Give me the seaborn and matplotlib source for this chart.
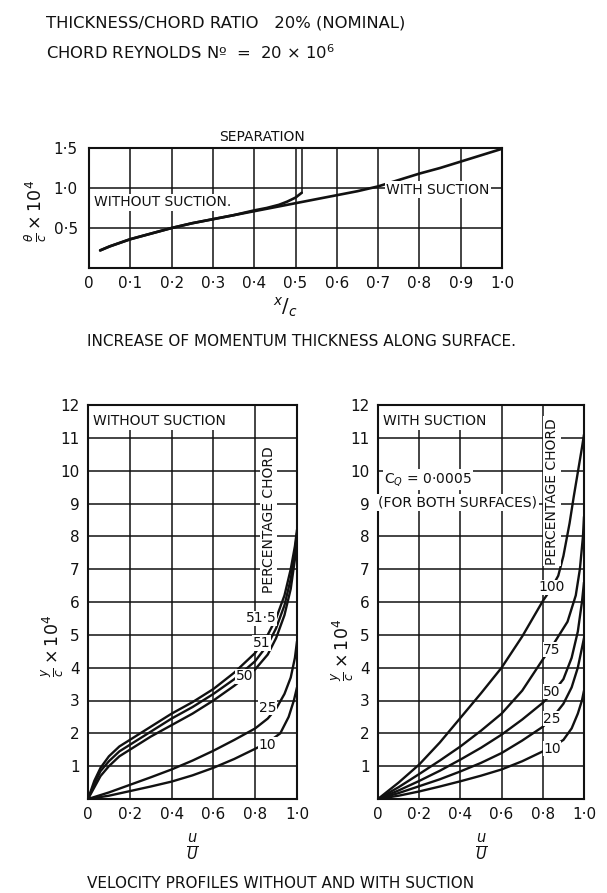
import matplotlib
matplotlib.use("Agg")
import matplotlib.pyplot as plt
import pandas as pd
import seaborn as sns

# ---------------- data: momentum thickness (top chart) ----------------
with_x = [0.027, 0.05, 0.1, 0.15, 0.2, 0.25, 0.3, 0.35, 0.4, 0.45, 0.5, 0.55,
          0.6, 0.65, 0.7, 0.75, 0.8, 0.85, 0.9, 0.95, 1.0]
with_theta = [0.22, 0.27, 0.36, 0.43, 0.50, 0.56, 0.61, 0.66, 0.71, 0.76, 0.81,
              0.86, 0.91, 0.96, 1.02, 1.10, 1.18, 1.25, 1.33, 1.41, 1.49]
without_x = [0.027, 0.05, 0.1, 0.15, 0.2, 0.25, 0.3, 0.35, 0.4, 0.43, 0.46,
             0.48, 0.5, 0.515]
without_theta = [0.22, 0.27, 0.36, 0.43, 0.50, 0.56, 0.61, 0.66, 0.72, 0.75,
                 0.79, 0.83, 0.88, 0.94]
separation_x = [0.515, 0.515]
separation_theta = [0.94, 1.5]

top_xticks = [0, 0.1, 0.2, 0.3, 0.4, 0.5, 0.6, 0.7, 0.8, 0.9, 1.0]
top_xticklabels = ["0", "0·1", "0·2", "0·3", "0·4", "0·5", "0·6", "0·7", "0·8", "0·9", "1·0"]
top_yticks = [0.5, 1.0, 1.5]
top_yticklabels = ["0·5", "1·0", "1·5"]

# ---------------- data: velocity profiles without suction ----------------
wo_10_u = [0, 0.1, 0.2, 0.3, 0.4, 0.5, 0.6, 0.7, 0.8, 0.86, 0.92, 0.96, 0.985, 1.0]
wo_10_y = [0, 0.1, 0.24, 0.38, 0.53, 0.72, 0.95, 1.22, 1.53, 1.72, 2.0, 2.5, 3.0, 3.4]
wo_25_u = [0, 0.1, 0.2, 0.3, 0.4, 0.5, 0.6, 0.7, 0.8, 0.86, 0.9, 0.94, 0.97, 0.99, 1.0]
wo_25_y = [0, 0.2, 0.43, 0.66, 0.9, 1.17, 1.47, 1.8, 2.15, 2.45, 2.75, 3.2, 3.7, 4.3, 4.8]
wo_50_u = [0, 0.03, 0.06, 0.1, 0.15, 0.2, 0.3, 0.4, 0.5, 0.6, 0.7, 0.8, 0.86, 0.9, 0.94, 0.97, 0.99, 1.0]
wo_50_y = [0, 0.35, 0.7, 1.0, 1.3, 1.5, 1.9, 2.25, 2.6, 3.0, 3.45, 3.95, 4.4, 4.9, 5.6, 6.4, 7.3, 8.0]
wo_51_u = [0, 0.03, 0.06, 0.1, 0.15, 0.2, 0.3, 0.4, 0.5, 0.6, 0.7, 0.8, 0.86, 0.9, 0.94, 0.97, 0.99, 1.0]
wo_51_y = [0, 0.45, 0.85, 1.15, 1.45, 1.65, 2.05, 2.45, 2.8, 3.2, 3.65, 4.2, 4.7, 5.2, 5.9, 6.7, 7.5, 8.1]
wo_515_u = [0, 0.03, 0.06, 0.1, 0.15, 0.2, 0.3, 0.4, 0.5, 0.6, 0.7, 0.8, 0.86, 0.9, 0.94, 0.97, 0.99, 1.0]
wo_515_y = [0, 0.55, 0.95, 1.3, 1.6, 1.8, 2.2, 2.6, 2.95, 3.35, 3.85, 4.45, 5.0, 5.5, 6.2, 7.0, 7.7, 8.2]
wo_names = ["10", "25", "50", "51", "51·5"]

# ---------------- data: velocity profiles with suction ----------------
ws_10_u = [0, 0.1, 0.2, 0.3, 0.4, 0.5, 0.6, 0.7, 0.8, 0.85, 0.9, 0.94, 0.97, 0.99, 1.0]
ws_10_y = [0, 0.1, 0.23, 0.38, 0.54, 0.71, 0.9, 1.15, 1.45, 1.6, 1.8, 2.15, 2.6, 3.0, 3.3]
ws_25_u = [0, 0.1, 0.2, 0.3, 0.4, 0.5, 0.6, 0.7, 0.8, 0.85, 0.9, 0.94, 0.97, 0.99, 1.0]
ws_25_y = [0, 0.18, 0.39, 0.6, 0.84, 1.1, 1.4, 1.78, 2.2, 2.5, 2.9, 3.4, 4.0, 4.6, 4.9]
ws_50_u = [0, 0.1, 0.2, 0.3, 0.4, 0.5, 0.6, 0.7, 0.8, 0.85, 0.9, 0.94, 0.97, 0.99, 1.0]
ws_50_y = [0, 0.26, 0.55, 0.86, 1.2, 1.56, 1.96, 2.42, 2.93, 3.25, 3.65, 4.3, 5.1, 6.0, 6.6]
ws_75_u = [0, 0.1, 0.2, 0.3, 0.4, 0.5, 0.6, 0.7, 0.8, 0.85, 0.92, 0.96, 0.98, 0.995, 1.0]
ws_75_y = [0, 0.36, 0.76, 1.17, 1.6, 2.08, 2.6, 3.3, 4.25, 4.7, 5.4, 6.2, 7.0, 8.0, 8.6]
ws_100_u = [0, 0.1, 0.2, 0.3, 0.4, 0.5, 0.6, 0.7, 0.8, 0.84, 0.875, 0.9, 0.93, 0.95, 0.97, 0.99, 1.0]
ws_100_y = [0, 0.5, 1.05, 1.72, 2.47, 3.22, 4.0, 4.95, 6.03, 6.4, 6.8, 7.4, 8.4, 9.2, 9.95, 10.7, 11.1]
ws_names = ["10", "25", "50", "75", "100"]

u_ticks = [0, 0.2, 0.4, 0.6, 0.8, 1.0]
u_ticklabels = ["0", "0·2", "0·4", "0·6", "0·8", "1·0"]
y_ticks = [1, 2, 3, 4, 5, 6, 7, 8, 9, 10, 11, 12]
y_ticklabels = ["1", "2", "3", "4", "5", "6", "7", "8", "9", "10", "11", "12"]

# ---------------- style ----------------
sns.set_style("white")
plt.rcParams["font.family"] = ["DejaVu Sans"]
plt.rcParams["mathtext.fontset"] = "dejavusans"
INK = "#111111"
FS = 10.5

W, H = 607, 893
fig = plt.figure(figsize=(W / 100, H / 100), dpi=100)


def px_axes(left, top, right, bottom):
    return fig.add_axes([left / W, 1 - bottom / H, (right - left) / W, (bottom - top) / H])


def style_axes(ax):
    for s in ax.spines.values():
        s.set_color(INK)
        s.set_linewidth(1.5)
    ax.tick_params(length=0, labelsize=FS + 0.5, colors=INK)
    ax.set_xlabel("")
    ax.set_ylabel("")


def long_df(names, us, ys):
    rows = []
    for n, uu, yy in zip(names, us, ys):
        for a, b in zip(uu, yy):
            rows.append({"curve": n, "u": a, "y": b})
    return pd.DataFrame(rows)


box = dict(facecolor="white", edgecolor="none", pad=1.2)

# ======== top chart ========
ax0 = px_axes(89, 148, 502, 268)
ax0.set_xlim(0, 1.0)
ax0.set_ylim(0, 1.5)
for xv in top_xticks[1:-1]:
    ax0.axvline(xv, color=INK, lw=1.1, zorder=1)
for yv in top_yticks[:-1]:
    ax0.axhline(yv, color=INK, lw=1.1, zorder=1)
sns.lineplot(x=separation_x, y=separation_theta, ax=ax0, color=INK, lw=1.1,
             sort=False, estimator=None, zorder=2)
df_top = pd.concat([
    pd.DataFrame({"curve": "with", "x": with_x, "t": with_theta}),
    pd.DataFrame({"curve": "without", "x": without_x, "t": without_theta}),
])
sns.lineplot(data=df_top, x="x", y="t", units="curve", estimator=None, sort=False,
             color=INK, lw=1.9, ax=ax0, zorder=3)
style_axes(ax0)
ax0.set_xticks(top_xticks)
ax0.set_xticklabels(top_xticklabels)
ax0.set_yticks(top_yticks)
ax0.set_yticklabels(top_yticklabels)
ax0.tick_params(axis="x", pad=6)
ax0.tick_params(axis="y", pad=8)
ax0.text(0.012, 0.82, "WITHOUT SUCTION.", fontsize=FS - 0.5, color=INK,
         va="center", ha="left", bbox=box, zorder=4)
ax0.text(0.72, 0.98, "WITH SUCTION", fontsize=FS - 0.5, color=INK,
         va="center", ha="left", bbox=box, zorder=4)
ax0.text(0.42, 1.64, "SEPARATION", fontsize=FS - 0.5, color=INK,
         va="center", ha="center", clip_on=False)
ax0.text(0.475, -0.34, r"$^{x}/_{c}$", fontsize=14, color=INK,
         ha="center", va="top", clip_on=False)
fig.text(36 / W, 1 - 211 / H, r"$\frac{\theta}{c}\times10^4$", rotation=90,
         fontsize=12.5, color=INK, ha="center", va="center")

# ======== header / titles ========
fig.text(46 / W, 1 - 23 / H, "THICKNESS/CHORD RATIO   20% (NOMINAL)", fontsize=11.8,
         color=INK, ha="left", va="center")
fig.text(46 / W, 1 - 53 / H, "CHORD REYNOLDS Nº  =  20 × 10$^{6}$", fontsize=11.8,
         color=INK, ha="left", va="center")
fig.text(87 / W, 1 - 342 / H, "INCREASE OF MOMENTUM THICKNESS ALONG SURFACE.",
         fontsize=11, color=INK, ha="left", va="center")
fig.text(87 / W, 1 - 883 / H, "VELOCITY PROFILES WITHOUT AND WITH SUCTION",
         fontsize=11, color=INK, ha="left", va="center")


def velocity_axes(ax, full_cols):
    ax.set_xlim(0, 1.0)
    ax.set_ylim(0, 12)
    for yv in y_ticks[:-1]:
        ax.axhline(yv, color=INK, lw=1.1, zorder=1)
    for xv in u_ticks[1:-1]:
        top = 12 if xv in full_cols else 11.3
        ax.vlines(xv, 0, top, color=INK, lw=1.1, zorder=1)
    style_axes(ax)
    ax.set_xticks(u_ticks)
    ax.set_xticklabels(u_ticklabels)
    ax.set_yticks(y_ticks)
    ax.set_yticklabels(y_ticklabels)
    ax.tick_params(axis="x", pad=6)
    ax.tick_params(axis="y", pad=6)


# ======== bottom-left: without suction ========
ax1 = px_axes(88, 405, 297, 799)
df_wo = long_df(wo_names, [wo_10_u, wo_25_u, wo_50_u, wo_51_u, wo_515_u],
                [wo_10_y, wo_25_y, wo_50_y, wo_51_y, wo_515_y])
velocity_axes(ax1, full_cols=[0.8])
sns.lineplot(data=df_wo, x="u", y="y", units="curve", estimator=None, sort=False,
             color=INK, lw=1.7, ax=ax1, zorder=3)
style_axes(ax1)
ax1.text(0.025, 11.5, "WITHOUT SUCTION", fontsize=FS - 0.5, color=INK,
         va="center", ha="left", bbox=box, zorder=4)
ax1.text(0.865, 8.5, "PERCENTAGE CHORD", rotation=90, fontsize=FS - 0.5, color=INK,
         va="center", ha="center", bbox=box, zorder=4)
wo_lab_pos = [(0.86, 1.65), (0.86, 2.78), (0.75, 3.74), (0.83, 4.75), (0.83, 5.5)]
for name, (lx, ly) in zip(wo_names, wo_lab_pos):
    ax1.text(lx, ly, name, fontsize=FS - 0.5, color=INK, ha="center", va="center",
             bbox=dict(facecolor="white", edgecolor="none", pad=0.4), zorder=4)
ax1.text(0.5, -1.0, r"$\frac{u}{U}$", fontsize=15, color=INK, ha="center",
         va="top", clip_on=False)
fig.text(53 / W, 1 - 646 / H, r"$\frac{y}{c}\times10^4$", rotation=90,
         fontsize=12.5, color=INK, ha="center", va="center")

# ======== bottom-right: with suction ========
ax2 = px_axes(378, 405, 584, 799)
df_ws = long_df(ws_names, [ws_10_u, ws_25_u, ws_50_u, ws_75_u, ws_100_u],
                [ws_10_y, ws_25_y, ws_50_y, ws_75_y, ws_100_y])
velocity_axes(ax2, full_cols=[0.6, 0.8])
sns.lineplot(data=df_ws, x="u", y="y", units="curve", estimator=None, sort=False,
             color=INK, lw=1.7, ax=ax2, zorder=3)
style_axes(ax2)
ax2.text(0.025, 11.5, "WITH SUCTION", fontsize=FS - 0.5, color=INK,
         va="center", ha="left", bbox=box, zorder=4)
ax2.text(0.03, 9.73, "C$_{Q}$ = 0·0005", fontsize=FS - 0.5, color=INK,
         va="center", ha="left", bbox=box, zorder=4)
ax2.text(0.0, 9.03, "(FOR BOTH SURFACES)", fontsize=FS - 0.5, color=INK,
         va="center", ha="left", bbox=box, zorder=4)
ax2.text(0.845, 9.37, "PERCENTAGE CHORD", rotation=90, fontsize=FS - 0.5, color=INK,
         va="center", ha="center", bbox=box, zorder=4)
ws_lab_pos = [(0.845, 1.53), (0.845, 2.45), (0.845, 3.27), (0.845, 4.55), (0.845, 6.45)]
for name, (lx, ly) in zip(ws_names, ws_lab_pos):
    ax2.text(lx, ly, name, fontsize=FS - 0.5, color=INK, ha="center", va="center",
             bbox=dict(facecolor="white", edgecolor="none", pad=0.4), zorder=4)
ax2.text(0.5, -1.0, r"$\frac{u}{U}$", fontsize=15, color=INK, ha="center",
         va="top", clip_on=False)
fig.text(343 / W, 1 - 650 / H, r"$\frac{y}{c}\times10^4$", rotation=90,
         fontsize=12.5, color=INK, ha="center", va="center")

fig.savefig("out.png", dpi=100, facecolor="white")
